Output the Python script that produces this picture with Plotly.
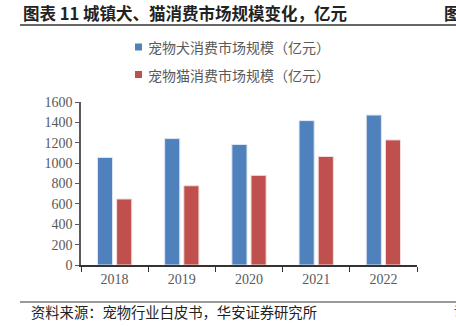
import plotly.graph_objects as go

years = ["2018", "2019", "2020", "2021", "2022"]
dog = [1056, 1241, 1183, 1417, 1472]
cat = [648, 778, 880, 1065, 1228]
dog_name = "宠物犬消费市场规模（亿元）"
cat_name = "宠物猫消费市场规模（亿元）"
y_ticks = [0, 200, 400, 600, 800, 1000, 1200, 1400, 1600]

CJK = "Noto Sans CJK SC"
SERIF = "Liberation Serif"
BLUE = "#4F81BD"
RED = "#C0504D"

# plot area in pixels
L, R, T, B = 81, 417, 102, 265
W, H = R - L, B - T


def px(x):
    return (x - L) / W


def py(y):
    return (B - y) / H


fig = go.Figure()
fig.add_trace(go.Bar(x=years, y=dog, name=dog_name,
                     marker=dict(color=BLUE, line=dict(color="#dfe7f2", width=1))))
fig.add_trace(go.Bar(x=years, y=cat, name=cat_name,
                     marker=dict(color=RED, line=dict(color="#f2dede", width=1))))

fig.update_layout(
    width=456, height=326,
    margin=dict(l=L, r=456 - R, t=T, b=326 - B, autoexpand=False),
    paper_bgcolor="white", plot_bgcolor="white",
    barmode="group", bargap=0.43, bargroupgap=0.21,
    showlegend=False,
    xaxis=dict(showline=True, linecolor="#333333", linewidth=1.5,
               ticks="outside", ticklen=5, tickcolor="#333333", tickson="boundaries",
               tickfont=dict(family=SERIF, size=14, color="#595959"),
               showgrid=False, fixedrange=True),
    yaxis=dict(range=[0, 1600], tickvals=y_ticks, showline=True,
               linecolor="#595959", linewidth=1.5, ticks="outside", ticklen=4,
               tickcolor="#595959",
               tickfont=dict(family=SERIF, size=14, color="#595959"),
               showgrid=False, zeroline=False, fixedrange=True),
    font=dict(family=CJK),
)

annotations = [
    dict(text="<b>图表 11 城镇犬、猫消费市场规模变化，亿元</b>", x=px(21), y=py(13),
         xanchor="left", yanchor="middle", font=dict(family=CJK, size=16.5, color="#222222")),
    dict(text="<b>图</b>", x=px(442), y=py(13), xanchor="left", yanchor="middle",
         font=dict(family=CJK, size=16.5, color="#222222")),
    dict(text="资料来源：宠物行业白皮书，华安证券研究所", x=px(29), y=py(311.5),
         xanchor="left", yanchor="middle", font=dict(family=CJK, size=14.3, color="#222222")),
    dict(text="请", x=px(452), y=py(310), xanchor="left", yanchor="middle",
         font=dict(family=CJK, size=12, color="#222222")),
    dict(text=dog_name, x=px(146), y=py(47), xanchor="left", yanchor="middle",
         font=dict(family=CJK, size=14, color="#595959")),
    dict(text=cat_name, x=px(146), y=py(74.5), xanchor="left", yanchor="middle",
         font=dict(family=CJK, size=14, color="#595959")),
]
for a in annotations:
    a.update(xref="paper", yref="paper", showarrow=False)
fig.update_layout(annotations=annotations)

shapes = [
    dict(type="line", x0=px(20), x1=px(456), y0=py(25), y1=py(25),
         line=dict(color="#333333", width=1.5)),
    dict(type="line", x0=px(20), x1=px(456), y0=py(302), y1=py(302),
         line=dict(color="#999999", width=2)),
    dict(type="rect", x0=px(135), x1=px(142), y0=py(43.5), y1=py(50.5),
         fillcolor=BLUE, line=dict(width=0)),
    dict(type="rect", x0=px(135), x1=px(142), y0=py(71), y1=py(78),
         fillcolor=RED, line=dict(width=0)),
]
for s in shapes:
    s.update(xref="paper", yref="paper")
fig.update_layout(shapes=shapes)

fig.write_html("out.html")
